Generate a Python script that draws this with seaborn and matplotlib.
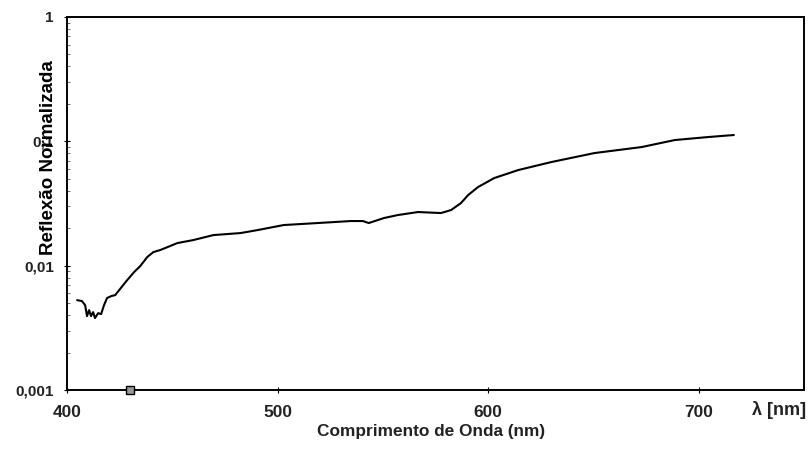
import numpy as np
import pandas as pd
import matplotlib
matplotlib.use("Agg")
import matplotlib.pyplot as plt
from matplotlib import font_manager
import seaborn as sns
from matplotlib.ticker import FixedLocator, FixedFormatter, LogLocator, NullFormatter

# Reflectance spectrum (wavelength in nm, normalized reflectance)
wavelength = [404.8, 407.1, 408.6, 409.5, 410.5, 411.4, 412.4, 413.3, 414.8, 416.2,
              417.6, 419.0, 421.0, 422.9, 425.2, 428.6, 431.9, 434.8, 438.1, 441.0,
              444.3, 449.0, 452.4, 460.0, 469.5, 482.4, 490.5, 502.9, 519.0, 534.8,
              540.5, 543.3, 550.5, 557.1, 566.7, 577.6, 582.4, 587.1, 590.5, 595.2,
              602.9, 614.3, 630.0, 650.5, 672.9, 688.6, 704.8, 716.7]
reflectance = [0.00528, 0.00519, 0.00482, 0.00393, 0.00439, 0.00393, 0.00423, 0.00379,
               0.00415, 0.00408, 0.00482, 0.00549, 0.00569, 0.00580, 0.00649, 0.00766,
               0.00889, 0.00993, 0.01173, 0.01286, 0.01336, 0.01439, 0.01520, 0.01607,
               0.01762, 0.01829, 0.01933, 0.02122, 0.02202, 0.02285, 0.02285, 0.02202,
               0.02415, 0.02553, 0.02700, 0.02650, 0.02801, 0.03188, 0.03697, 0.04289,
               0.05066, 0.05875, 0.06813, 0.08048, 0.08996, 0.1024, 0.1084, 0.1124]

# Reference marker on the wavelength axis
marker_x = [430.0]
marker_y = [0.001]

x_ticks = [400, 500, 600, 700]
x_tick_labels = ["400", "500", "600", "700"]
y_ticks = [0.001, 0.01, 0.1, 1]
y_tick_labels = ["0,001", "0,01", "0,1", "1"]

sns.set_theme(style="white")
plt.rcParams["font.family"] = ["Liberation Sans", "DejaVu Sans"]

# Condensed face for the vertical axis title, if available
try:
    font_manager.findfont("Liberation Sans Narrow", fallback_to_default=False)
    ylabel_family, ylabel_size = ["Liberation Sans Narrow", "DejaVu Sans"], 16
except ValueError:
    ylabel_family, ylabel_size = ["Liberation Sans", "DejaVu Sans"], 13.5

fig = plt.figure(figsize=(8.1, 4.67), dpi=100)
ax = fig.add_axes([67 / 810, 1 - 390 / 467, (804 - 67) / 810, (390 - 17) / 467])

df = pd.DataFrame({"wavelength": wavelength, "reflectance": reflectance})
sns.lineplot(data=df, x="wavelength", y="reflectance", ax=ax,
             color="black", linewidth=1.5, estimator=None, sort=False)
ax.plot(marker_x, marker_y, marker="s", markersize=5.5, markerfacecolor="#9a9a9a",
        markeredgecolor="black", markeredgewidth=1.0, linestyle="none", clip_on=False,
        zorder=5)

ax.set_yscale("log")
ax.set_xlim(400, 750)
ax.set_ylim(0.001, 1)

ax.xaxis.set_major_locator(FixedLocator(x_ticks))
ax.xaxis.set_major_formatter(FixedFormatter(x_tick_labels))
ax.yaxis.set_major_locator(FixedLocator(y_ticks))
ax.yaxis.set_major_formatter(FixedFormatter(y_tick_labels))
ax.yaxis.set_minor_locator(LogLocator(base=10, subs=np.arange(2, 10)))
ax.yaxis.set_minor_formatter(NullFormatter())

for side in ["left", "right", "top", "bottom"]:
    ax.spines[side].set_visible(True)
    ax.spines[side].set_color("black")
    ax.spines[side].set_linewidth(1.4)

ax.tick_params(axis="both", which="major", direction="inout", length=5, width=0.8,
               colors="black", bottom=True, left=True)
ax.tick_params(axis="y", which="minor", direction="in", length=2, width=0.6,
               colors="#555555", left=True)
ax.tick_params(axis="x", which="major", pad=8, labelsize=12.5)
ax.tick_params(axis="y", which="major", pad=7, labelsize=11)
for lbl in ax.get_xticklabels() + ax.get_yticklabels():
    lbl.set_fontweight("bold")
    lbl.set_color("#222222")

ax.set_xlabel("Comprimento de Onda (nm)", fontsize=12.4, fontweight="bold", color="#222222")
ax.xaxis.set_label_coords(0.494, -0.092)
ax.set_ylabel("Reflexão Normalizada", fontsize=ylabel_size, fontweight="bold",
              color="black", family=ylabel_family)
ax.yaxis.set_label_coords(-0.0136, 0.622)

ax.text(0.966, -0.054, "λ [nm]", transform=ax.transAxes, ha="center", va="center",
        fontsize=13, fontweight="bold", color="#222222")

ax.grid(False)
fig.savefig("out.png", dpi=100, facecolor="white")
